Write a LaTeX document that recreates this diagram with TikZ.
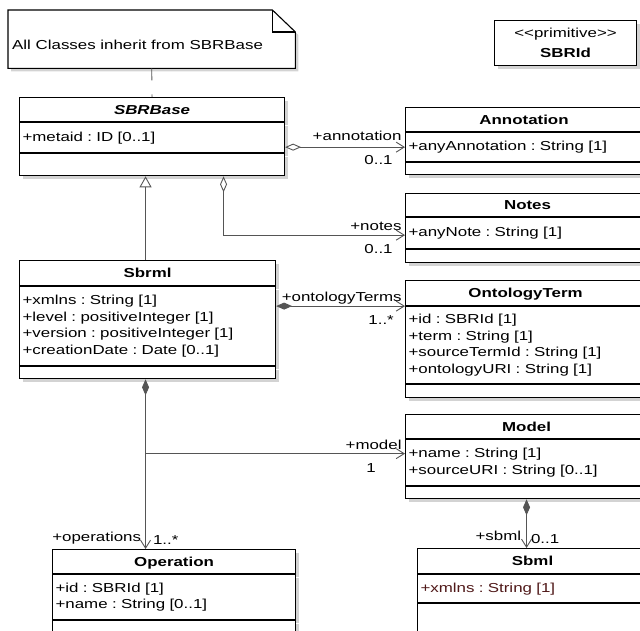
\documentclass[tikz,border=0pt]{standalone}
\usepackage{fontspec}
\setmainfont{Liberation Sans}[FakeStretch=1.3, Ligatures=TeXOff]
\usetikzlibrary{arrows.meta,positioning,shadows}
\definecolor{linkgray}{RGB}{85,85,85}
\definecolor{attrbrown}{RGB}{80,25,25}
\newcommand{\umlfont}{\fontsize{13pt}{16.7pt}\selectfont}
\frenchspacing

\begin{document}
\begin{tikzpicture}[
        x=1pt, y=-1pt,
        font=\umlfont,
        part/.style={
            draw, line width=1.1pt, fill=white,
            drop shadow={shadow xshift=3pt, shadow yshift=-3pt, opacity=0.35},
            inner xsep=3pt, inner ysep=0pt
        },
        cname/.style={part, anchor=north west, font=\umlfont\bfseries,
            text height=9.5pt, text depth=0pt},
        cattr/.style={part, below=0pt of #1, align=left},
        cop/.style={part, below=0pt of #1},
        notebox/.style={draw, line width=1.1pt, fill=white,
            drop shadow={shadow xshift=3pt, shadow yshift=-3pt, opacity=0.35}},
        link/.style={draw=linkgray, line width=0.9pt},
        assoc/.style={link, -{Straight Barb[length=8pt, width=10pt]}},
        aggr/.style={link, {Diamond[open, length=16pt, width=7pt]}-{Straight Barb[length=8pt, width=10pt]}},
        comp/.style={link, {Diamond[length=16pt, width=7pt]}-{Straight Barb[length=8pt, width=10pt]}},
        gen/.style={link, -{Triangle[open, fill=white, length=11pt, width=12pt]}},
        notelink/.style={link, dash pattern=on 12pt off 14pt},
        role/.style={inner sep=1pt, text depth=3pt},
        mult/.style={inner sep=1pt}
    ]

    \path[use as bounding box] (0,0) rectangle (640,631);
    \clip (0,0) rectangle (640,631);

    % Note
    \node[minimum width=287pt, minimum height=58pt, anchor=north west, inner sep=0pt] (note) at (8,10) {};
    \draw[notebox] (note.south west) -- (note.north west) -- ([xshift=-23pt]note.north east)
        -- ([yshift=-22pt]note.north east) -- (note.south east) -- cycle;
    \draw[line width=1.1pt] ([xshift=-23pt]note.north east) -- ([xshift=-23pt, yshift=-22pt]note.north east)
        -- ([yshift=-22pt]note.north east);
    \node[anchor=base west, inner sep=0pt] (note-text) at ([xshift=4pt, yshift=-10pt]note.west)
        {All Classes inherit from SBRBase};

    % Primitive type
    \node[part, anchor=north west, minimum width=142pt, minimum height=45pt, align=center] (sbrid) at (494,20)
        {<<primitive>>\\[3pt]\textbf{SBRId}};

    % SBRBase
    \node[cname, minimum width=265pt, minimum height=24pt, font=\umlfont\bfseries\itshape] (base-name) at (19,97) {SBRBase};
    \node[cattr=base-name, text width=259pt, minimum height=30pt] (base-attr) {+metaid : ID [0..1]};
    \node[cop=base-attr, minimum width=265pt, minimum height=22pt] (base-op) {};

    % Annotation
    \node[cname, minimum width=237pt, minimum height=24pt] (annot-name) at (405,107) {Annotation};
    \node[cattr=annot-name, text width=231pt, minimum height=29pt] (annot-attr) {+anyAnnotation : String [1]};
    \node[cop=annot-attr, minimum width=237pt, minimum height=12pt] (annot-op) {};

    % Notes
    \node[cname, minimum width=244pt, minimum height=23pt] (notes-name) at (405,193) {Notes};
    \node[cattr=notes-name, text width=238pt, minimum height=31pt] (notes-attr) {+anyNote : String [1]};
    \node[cop=notes-attr, minimum width=244pt, minimum height=13pt] (notes-op) {};

    % Sbrml
    \node[cname, minimum width=256pt, minimum height=25pt] (sbrml-name) at (19,260) {Sbrml};
    \node[cattr=sbrml-name, text width=250pt, minimum height=79pt] (sbrml-attr)
        {+xmlns : String [1]\\+level : positiveInteger [1]\\+version : positiveInteger [1]\\+creationDate : Date [0..1]};
    \node[cop=sbrml-attr, minimum width=256pt, minimum height=12pt] (sbrml-op) {};

    % OntologyTerm
    \node[cname, minimum width=240pt, minimum height=25pt] (onto-name) at (405,280) {OntologyTerm};
    \node[cattr=onto-name, text width=234pt, minimum height=77pt] (onto-attr)
        {+id : SBRId [1]\\+term : String [1]\\+sourceTermId : String [1]\\+ontologyURI : String [1]};
    \node[cop=onto-attr, minimum width=240pt, minimum height=13pt] (onto-op) {};

    % Model
    \node[cname, minimum width=242pt, minimum height=24pt] (model-name) at (405,414) {Model};
    \node[cattr=model-name, text width=236pt, minimum height=46pt] (model-attr)
        {+name : String [1]\\+sourceURI : String [0..1]};
    \node[cop=model-attr, minimum width=242pt, minimum height=12pt] (model-op) {};

    % Operation
    \node[cname, minimum width=243pt, minimum height=24pt] (op-name) at (52,549) {Operation};
    \node[cattr=op-name, text width=237pt, minimum height=45pt] (op-attr)
        {+id : SBRId [1]\\+name : String [0..1]};
    \node[cop=op-attr, minimum width=243pt, minimum height=30pt] (op-op) {};

    % Sbml
    \node[cname, minimum width=230pt, minimum height=25pt] (sbml-name) at (417,548) {Sbml};
    \node[cattr=sbml-name, text width=224pt, minimum height=28pt, text=attrbrown] (sbml-attr) {+xmlns : String [1]};
    \node[cop=sbml-attr, minimum width=230pt, minimum height=40pt] (sbml-op) {};

    % Note link
    \draw[notelink] (note.south) -- (base-name.north);

    % Sbrml -> SBRBase
    \draw[gen] ([xshift=-2pt]sbrml-name.north) -- ([xshift=-2pt]sbrml-name.north |- base-op.south);

    % SBRBase -> Annotation
    \draw[aggr] (base-attr.east |- annot-attr.west) -- (annot-attr.west)
        node[role, anchor=south east, xshift=-2pt, yshift=2pt] {+annotation}
        node[mult, anchor=north west, xshift=-42pt, yshift=-7pt] {0..1};

    % SBRBase -> Notes
    \draw[aggr] ([xshift=71.5pt]base-op.south) |- ([yshift=-2pt]notes-attr.west)
        node[role, anchor=south east, xshift=-2pt] {+notes}
        node[mult, anchor=north west, xshift=-42pt, yshift=-8pt] {0..1};

    % Sbrml -> OntologyTerm
    \draw[comp] (sbrml-attr.east |- onto-name.south) -- (onto-name.south west)
        node[role, anchor=south east, xshift=-2pt] {+ontologyTerms}
        node[mult, anchor=north west, xshift=-38pt, yshift=-8pt] {1..*};

    % Sbrml -> Operation, Model
    \coordinate (spine) at ([xshift=-2pt]sbrml-op.south);
    \draw[comp] (spine) -- (spine |- op-name.north)
        node[role, anchor=south east, xshift=-3pt, yshift=3pt] {+operations}
        node[mult, anchor=south west, xshift=6pt, yshift=3pt] {1..*};
    \draw[assoc] ([yshift=9pt]model-attr.west -| spine) -- ([yshift=9pt]model-attr.west)
        node[role, anchor=south east, xshift=-2pt] {+model}
        node[mult, anchor=north west, xshift=-40pt, yshift=-8pt] {1};

    % Model -> Sbml
    \draw[comp] (model-op.south) -- (model-op.south |- sbml-name.north)
        node[role, anchor=south east, xshift=-4pt, yshift=3pt] {+sbml}
        node[mult, anchor=south west, xshift=3pt, yshift=3pt] {0..1};

\end{tikzpicture}
\end{document}
